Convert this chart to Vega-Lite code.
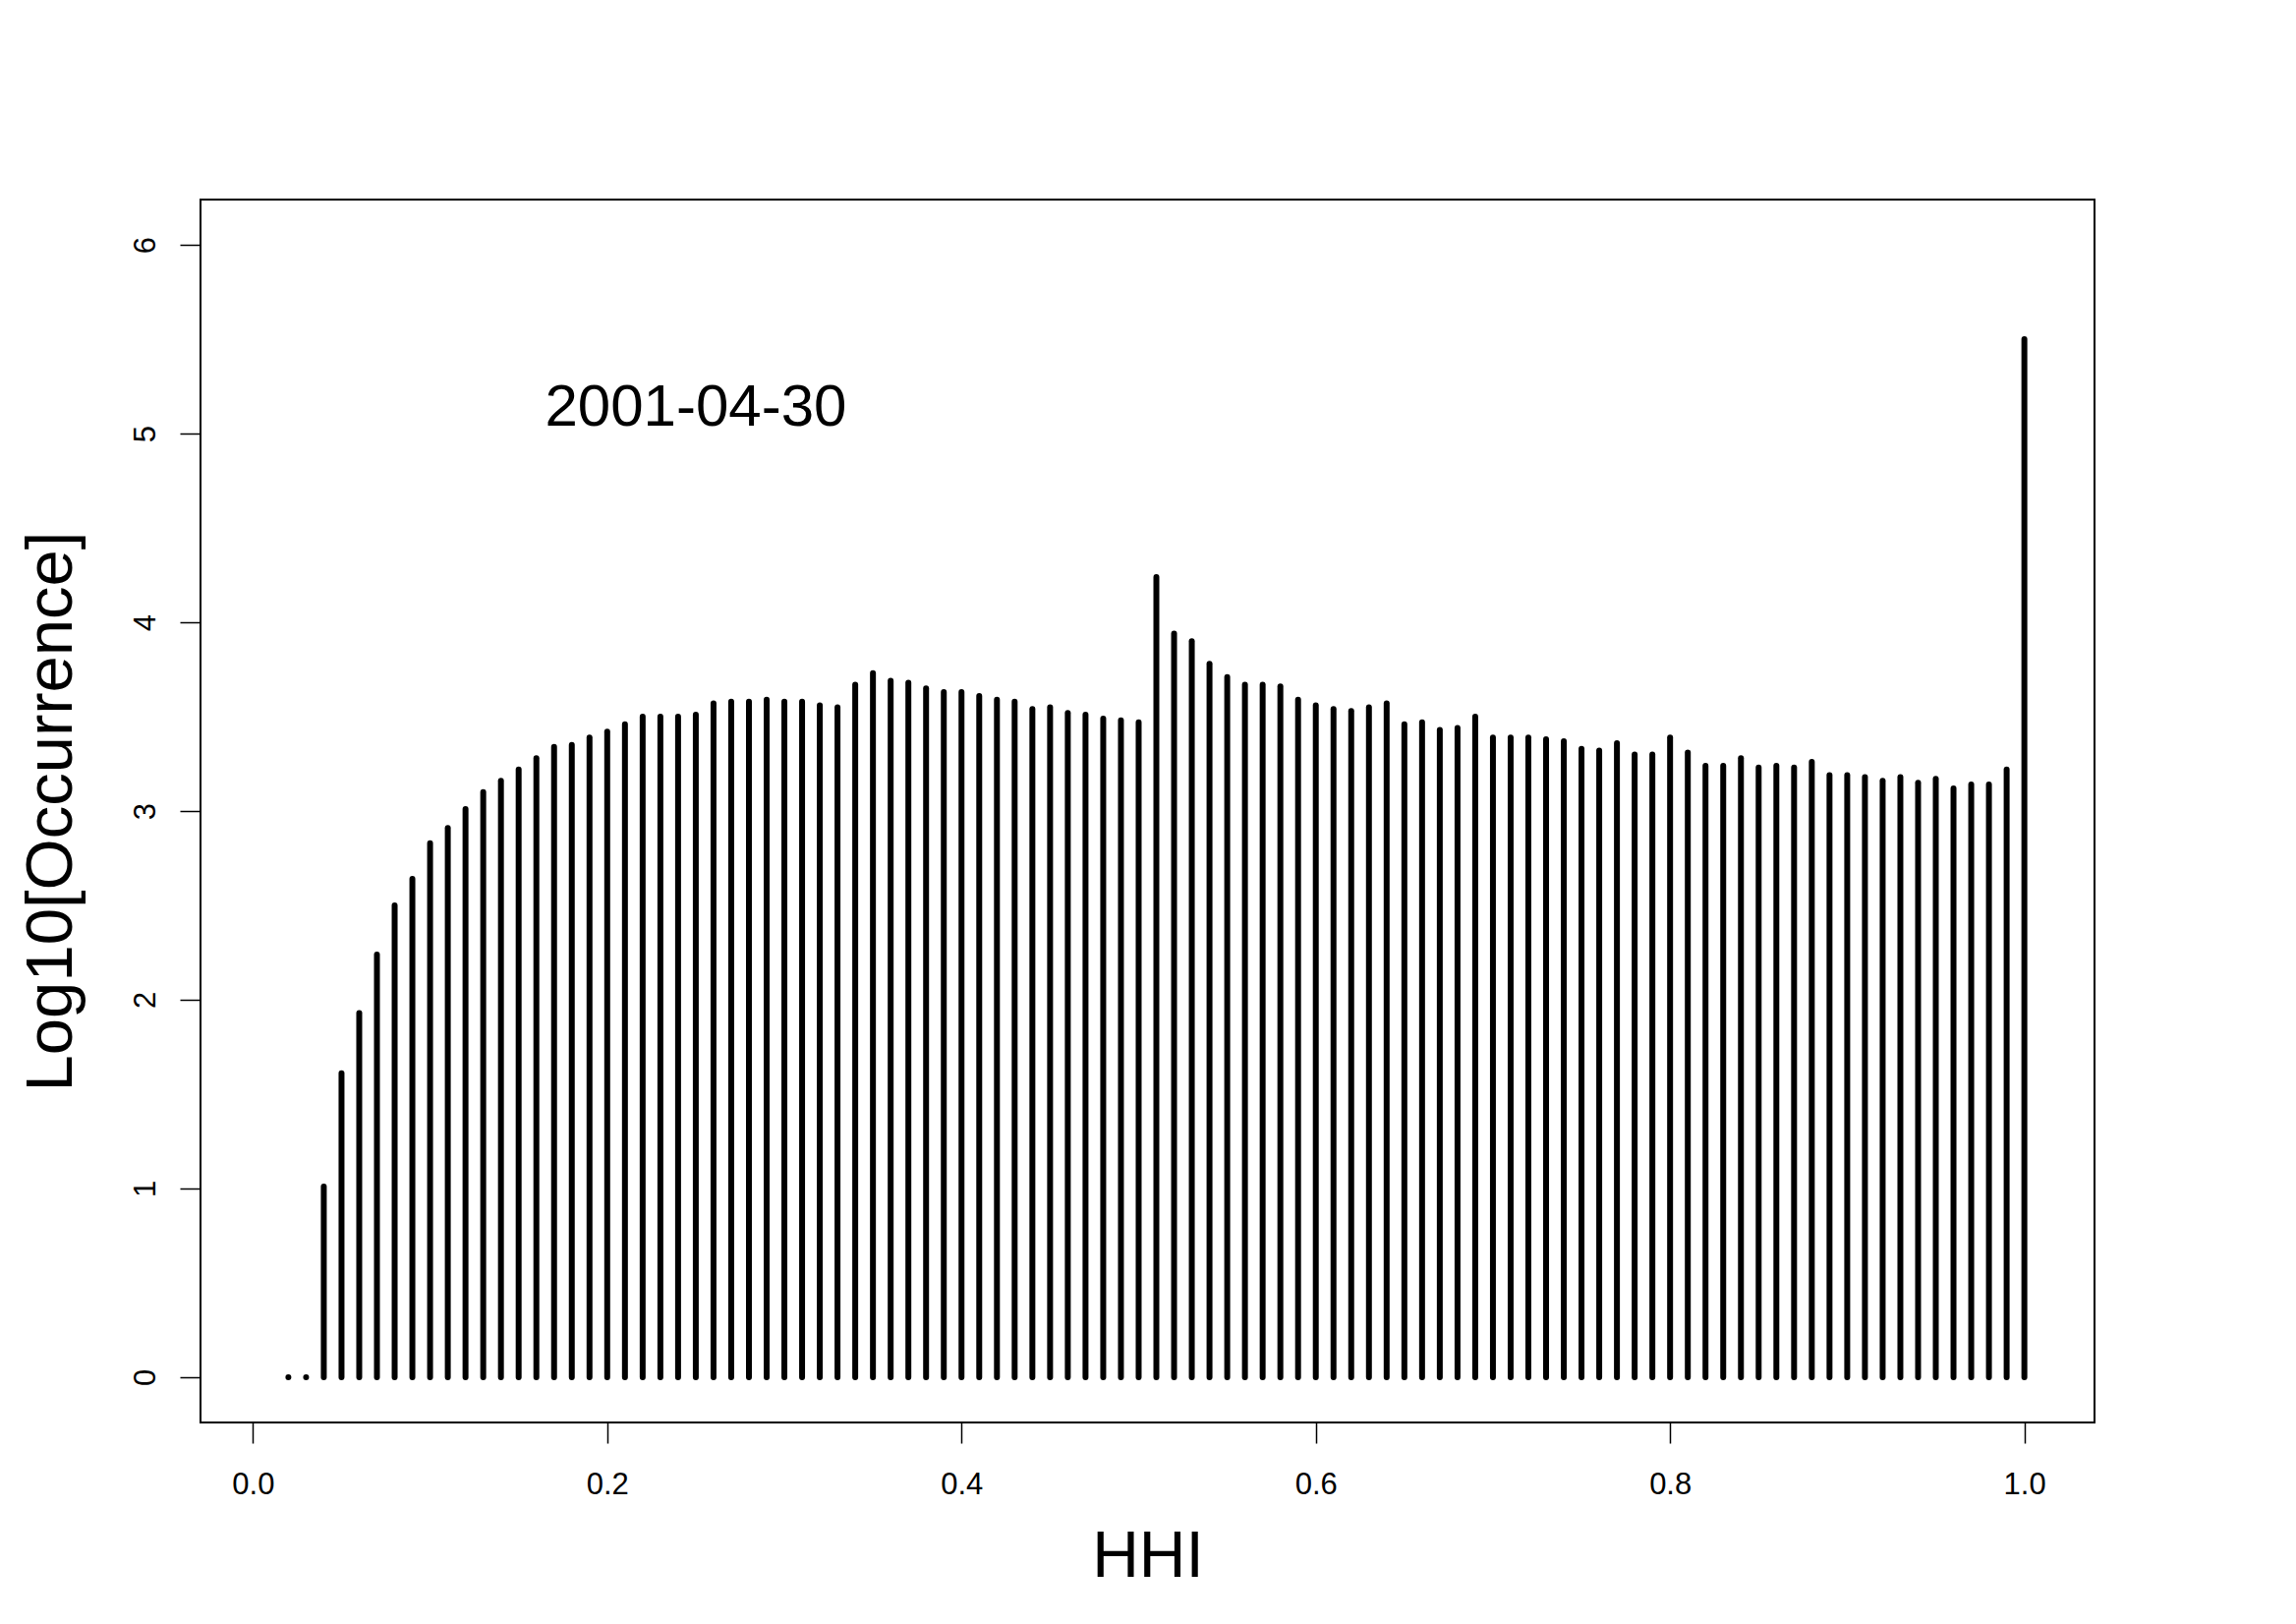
{
  "$schema": "https://vega.github.io/schema/vega-lite/v6.json",
  "width": 1927,
  "height": 1244,
  "autosize": {"type": "none"},
  "padding": {"left": 204, "top": 203, "right": 205, "bottom": 205},
  "background": "white",
  "config": {
    "view": {"stroke": "black", "strokeWidth": 2},
    "font": "Liberation Sans"
  },
  "layer": [
    {
      "data": {
        "values": [
          {"hhi": 0.02, "v": 0}, {"hhi": 0.03, "v": 0}, {"hhi": 0.04, "v": 1.01}, {"hhi": 0.05, "v": 1.61},
          {"hhi": 0.06, "v": 1.93}, {"hhi": 0.07, "v": 2.24}, {"hhi": 0.08, "v": 2.50}, {"hhi": 0.09, "v": 2.64},
          {"hhi": 0.10, "v": 2.83}, {"hhi": 0.11, "v": 2.91}, {"hhi": 0.12, "v": 3.01}, {"hhi": 0.13, "v": 3.10},
          {"hhi": 0.14, "v": 3.16}, {"hhi": 0.15, "v": 3.22}, {"hhi": 0.16, "v": 3.28}, {"hhi": 0.17, "v": 3.34},
          {"hhi": 0.18, "v": 3.35}, {"hhi": 0.19, "v": 3.39}, {"hhi": 0.20, "v": 3.42}, {"hhi": 0.21, "v": 3.46},
          {"hhi": 0.22, "v": 3.50}, {"hhi": 0.23, "v": 3.50}, {"hhi": 0.24, "v": 3.50}, {"hhi": 0.25, "v": 3.51},
          {"hhi": 0.26, "v": 3.57}, {"hhi": 0.27, "v": 3.58}, {"hhi": 0.28, "v": 3.58}, {"hhi": 0.29, "v": 3.59},
          {"hhi": 0.30, "v": 3.58}, {"hhi": 0.31, "v": 3.58}, {"hhi": 0.32, "v": 3.56}, {"hhi": 0.33, "v": 3.55},
          {"hhi": 0.34, "v": 3.67}, {"hhi": 0.35, "v": 3.73}, {"hhi": 0.36, "v": 3.69}, {"hhi": 0.37, "v": 3.68},
          {"hhi": 0.38, "v": 3.65}, {"hhi": 0.39, "v": 3.63}, {"hhi": 0.40, "v": 3.63}, {"hhi": 0.41, "v": 3.61},
          {"hhi": 0.42, "v": 3.59}, {"hhi": 0.43, "v": 3.58}, {"hhi": 0.44, "v": 3.54}, {"hhi": 0.45, "v": 3.55},
          {"hhi": 0.46, "v": 3.52}, {"hhi": 0.47, "v": 3.51}, {"hhi": 0.48, "v": 3.49}, {"hhi": 0.49, "v": 3.48},
          {"hhi": 0.50, "v": 3.47}, {"hhi": 0.51, "v": 4.24}, {"hhi": 0.52, "v": 3.94}, {"hhi": 0.53, "v": 3.90},
          {"hhi": 0.54, "v": 3.78}, {"hhi": 0.55, "v": 3.71}, {"hhi": 0.56, "v": 3.67}, {"hhi": 0.57, "v": 3.67},
          {"hhi": 0.58, "v": 3.66}, {"hhi": 0.59, "v": 3.59}, {"hhi": 0.60, "v": 3.56}, {"hhi": 0.61, "v": 3.54},
          {"hhi": 0.62, "v": 3.53}, {"hhi": 0.63, "v": 3.55}, {"hhi": 0.64, "v": 3.57}, {"hhi": 0.65, "v": 3.46},
          {"hhi": 0.66, "v": 3.47}, {"hhi": 0.67, "v": 3.43}, {"hhi": 0.68, "v": 3.44}, {"hhi": 0.69, "v": 3.50},
          {"hhi": 0.70, "v": 3.39}, {"hhi": 0.71, "v": 3.39}, {"hhi": 0.72, "v": 3.39}, {"hhi": 0.73, "v": 3.38},
          {"hhi": 0.74, "v": 3.37}, {"hhi": 0.75, "v": 3.33}, {"hhi": 0.76, "v": 3.32}, {"hhi": 0.77, "v": 3.36},
          {"hhi": 0.78, "v": 3.30}, {"hhi": 0.79, "v": 3.30}, {"hhi": 0.80, "v": 3.39}, {"hhi": 0.81, "v": 3.31},
          {"hhi": 0.82, "v": 3.24}, {"hhi": 0.83, "v": 3.24}, {"hhi": 0.84, "v": 3.28}, {"hhi": 0.85, "v": 3.23},
          {"hhi": 0.86, "v": 3.24}, {"hhi": 0.87, "v": 3.23}, {"hhi": 0.88, "v": 3.26}, {"hhi": 0.89, "v": 3.19},
          {"hhi": 0.90, "v": 3.19}, {"hhi": 0.91, "v": 3.18}, {"hhi": 0.92, "v": 3.16}, {"hhi": 0.93, "v": 3.18},
          {"hhi": 0.94, "v": 3.15}, {"hhi": 0.95, "v": 3.17}, {"hhi": 0.96, "v": 3.12}, {"hhi": 0.97, "v": 3.14},
          {"hhi": 0.98, "v": 3.14}, {"hhi": 0.99, "v": 3.22}, {"hhi": 1.00, "v": 5.50}
        ]
      },
      "mark": {"type": "rule", "strokeWidth": 6, "strokeCap": "round", "color": "black"},
      "encoding": {
        "x": {
          "field": "hhi", "type": "quantitative",
          "scale": {"domain": [-0.0296, 1.0396], "nice": false, "zero": false},
          "axis": {
            "values": [0, 0.2, 0.4, 0.6, 0.8, 1.0], "format": ".1f",
            "domain": false, "grid": false,
            "tickSize": 21, "tickColor": "black", "tickWidth": 1.5,
            "labelFontSize": 31, "labelColor": "black", "labelPadding": 27, "labelBaseline": "top",
            "labelFlush": false, "labelOverlap": false,
            "title": "HHI", "titleFontSize": 66, "titleFontWeight": "normal", "titleColor": "black",
            "titleX": 963.5, "titleY": 156, "titleBaseline": "alphabetic", "titleAlign": "center"
          }
        },
        "y": {
          "field": "v", "type": "quantitative",
          "scale": {"domain": [-0.24, 6.24], "nice": false, "zero": false},
          "axis": {
            "values": [0, 1, 2, 3, 4, 5, 6], "format": "d",
            "domain": false, "grid": false,
            "tickSize": 21, "tickColor": "black", "tickWidth": 1.5,
            "labelFontSize": 31, "labelColor": "black", "labelPadding": 26,
            "labelAngle": 270, "labelAlign": "center", "labelBaseline": "alphabetic",
            "labelFlush": false, "labelOverlap": false,
            "title": "Log10[Occurrence]", "titleFontSize": 67, "titleFontWeight": "normal", "titleColor": "black",
            "titleAngle": 270, "titleX": -132, "titleY": 622, "titleBaseline": "alphabetic", "titleAlign": "center"
          }
        },
        "y2": {"datum": 0}
      }
    },
    {
      "data": {"values": [{"hhi": 0.25, "v": 5.04, "label": "2001-04-30"}]},
      "mark": {"type": "text", "fontSize": 60, "baseline": "alphabetic", "align": "center", "color": "black", "font": "Liberation Sans"},
      "encoding": {
        "x": {"field": "hhi", "type": "quantitative"},
        "y": {"field": "v", "type": "quantitative"},
        "text": {"field": "label"}
      }
    }
  ]
}
